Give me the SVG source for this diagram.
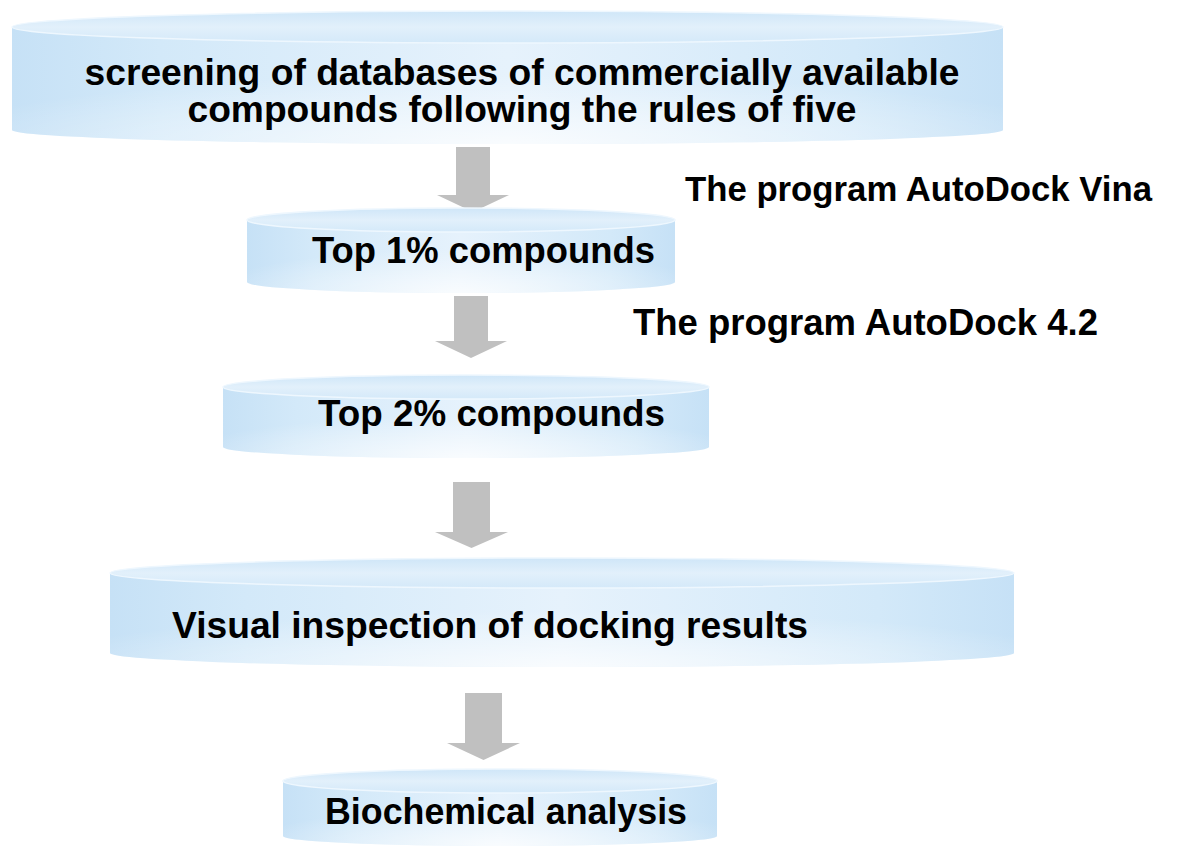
<svg xmlns="http://www.w3.org/2000/svg" width="1194" height="848" viewBox="0 0 1194 848">
  <style>
    .lbl { font-family: "Liberation Sans", Arial, sans-serif; font-weight: bold; fill: #000; }
    .body { fill: url(#gBody); }
    .glow { fill: url(#gGlow); }
    .top { fill: url(#gTop); stroke: #eef7fe; stroke-width: 1.5; }
    .arrow { fill: #c0c0c0; }
  </style>
  <defs>
    <linearGradient id="gBody" x1="0" y1="0" x2="1" y2="0">
      <stop offset="0" stop-color="#c6e1f6"/>
      <stop offset="0.15" stop-color="#d3e9f9"/>
      <stop offset="0.5" stop-color="#e6f2fc"/>
      <stop offset="0.85" stop-color="#d3e9f9"/>
      <stop offset="1" stop-color="#c6e1f6"/>
    </linearGradient>
    <radialGradient id="gGlow" cx="0.5" cy="1" r="0.6" fx="0.5" fy="1">
      <stop offset="0" stop-color="#ffffff" stop-opacity="0.75"/>
      <stop offset="1" stop-color="#ffffff" stop-opacity="0"/>
    </radialGradient>
    <linearGradient id="gTop" x1="0" y1="0" x2="0" y2="1">
      <stop offset="0" stop-color="#cfe6f8"/>
      <stop offset="0.5" stop-color="#e2f0fb"/>
      <stop offset="1" stop-color="#d4e9f9"/>
    </linearGradient>
  </defs>
  <rect width="1194" height="848" fill="#ffffff"/>

  <g id="connectors">
    <polygon class="arrow" points="456,147 490,147 490,195 509,195 473,212 437,195 456,195"/>
    <polygon class="arrow" points="454,296 488,296 488,341 507,341 471,358 435,341 454,341"/>
    <polygon class="arrow" points="453,482 490,482 490,532 508,532 471.5,548 435,532 453,532"/>
    <polygon class="arrow" points="465,693 502,693 502,743 520,743 483.5,760 447,743 465,743"/>
  </g>

  <g id="node1">
    <path class="body" d="M12,27 L12,130 A495.5,14 0 0 0 1003,130 L1003,27 Z"/>
    <path class="glow" d="M12,27 L12,130 A495.5,14 0 0 0 1003,130 L1003,27 Z"/>
    <ellipse class="top" cx="507.5" cy="27" rx="495.5" ry="16"/>
    <text class="lbl" x="522" y="85" font-size="37" text-anchor="middle" textLength="875" lengthAdjust="spacingAndGlyphs">screening of databases of commercially available</text>
    <text class="lbl" x="522" y="122" font-size="37" text-anchor="middle" textLength="669" lengthAdjust="spacingAndGlyphs">compounds following the rules of five</text>
  </g>

  <g id="node2">
    <path class="body" d="M247,220 L247,282 A214,11 0 0 0 675,282 L675,220 Z"/>
    <path class="glow" d="M247,220 L247,282 A214,11 0 0 0 675,282 L675,220 Z"/>
    <ellipse class="top" cx="461" cy="220" rx="214" ry="12"/>
    <text class="lbl" x="483.5" y="263" font-size="36" text-anchor="middle" textLength="343" lengthAdjust="spacingAndGlyphs">Top 1% compounds</text>
  </g>

  <g id="node3">
    <path class="body" d="M223,387 L223,447 A243,11 0 0 0 709,447 L709,387 Z"/>
    <path class="glow" d="M223,387 L223,447 A243,11 0 0 0 709,447 L709,387 Z"/>
    <ellipse class="top" cx="466" cy="387" rx="243" ry="12"/>
    <text class="lbl" x="491.5" y="426" font-size="36" text-anchor="middle" textLength="347" lengthAdjust="spacingAndGlyphs">Top 2% compounds</text>
  </g>

  <g id="node4">
    <path class="body" d="M110,573 L110,653 A452,14 0 0 0 1014,653 L1014,573 Z"/>
    <path class="glow" d="M110,573 L110,653 A452,14 0 0 0 1014,653 L1014,573 Z"/>
    <ellipse class="top" cx="562" cy="573" rx="452" ry="15"/>
    <text class="lbl" x="490" y="638" font-size="37" text-anchor="middle" textLength="636" lengthAdjust="spacingAndGlyphs">Visual inspection of docking results</text>
  </g>

  <g id="node5">
    <path class="body" d="M283,781 L283,836 A217,10 0 0 0 717,836 L717,781 Z"/>
    <path class="glow" d="M283,781 L283,836 A217,10 0 0 0 717,836 L717,781 Z"/>
    <ellipse class="top" cx="500" cy="781" rx="217" ry="12"/>
    <text class="lbl" x="506" y="824" font-size="36" text-anchor="middle" textLength="362" lengthAdjust="spacingAndGlyphs">Biochemical analysis</text>
  </g>

  <g id="label-vina">
    <text class="lbl" x="685" y="201" font-size="35" textLength="467" lengthAdjust="spacingAndGlyphs">The program AutoDock Vina</text>
  </g>
  <g id="label-ad42">
    <text class="lbl" x="633" y="335" font-size="36" textLength="465" lengthAdjust="spacingAndGlyphs">The program AutoDock 4.2</text>
  </g>
</svg>
